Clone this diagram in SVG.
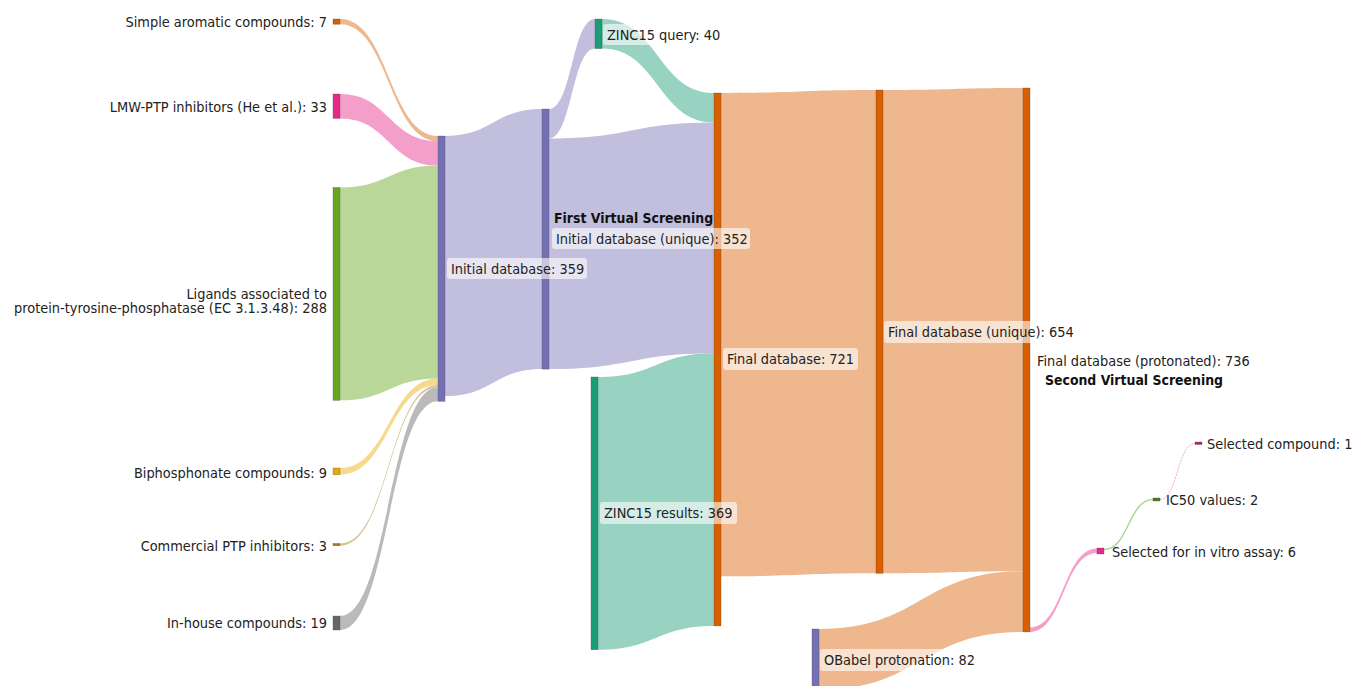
<svg xmlns="http://www.w3.org/2000/svg" width="1353" height="686" viewBox="0 0 1353 686">
<style>
text{font-family:"DejaVu Sans Condensed","DejaVu Sans",sans-serif;font-size:14.4px;fill:#222}
.b{font-weight:bold;fill:#111;font-size:13.9px}
.bg{fill:#fff;fill-opacity:0.6}
.n{stroke:#444;stroke-width:0.5;stroke-opacity:0.6}
.peach{fill:#EEB78D}.lav{fill:#C1BFDD}.teal{fill:#98D3C2}.pink{fill:#F49FCA}.green{fill:#BAD79A}.yel{fill:#F6D98D}.brown{fill:#D7C199}.grey{fill:#BABABA}
</style>
<rect width="1353" height="686" fill="#fff"/>
<g id="links">
<path class="peach" d="M340,19 C389,19 389,136 438,136 L438,141.2 C389,141.2 389,24.2 340,24.2 Z"/>
<path class="pink" d="M340,94 C389,94 389,141.2 438,141.2 L438,165.6 C389,165.6 389,118.4 340,118.4 Z"/>
<path class="green" d="M340,187.5 C389,187.5 389,165.6 438,165.6 L438,378.4 C389,378.4 389,400.3 340,400.3 Z"/>
<path class="yel" d="M340,468 C389,468 389,378.4 438,378.4 L438,385.1 C389,385.1 389,474.7 340,474.7 Z"/>
<path class="brown" d="M340,543.5 C389,543.5 389,385.1 438,385.1 L438,387.3 C389,387.3 389,545.7 340,545.7 Z"/>
<path class="grey" d="M340,616 C389,616 389,387.3 438,387.3 L438,401.3 C389,401.3 389,630 340,630 Z"/>
<path class="lav" d="M445,136 C493.5,136 493.5,109 542,109 L542,369.1 C493.5,369.1 493.5,396.1 445,396.1 Z"/>
<path class="lav" d="M549,109 C572,109 572,19 595,19 L595,48.6 C572,48.6 572,138.6 549,138.6 Z"/>
<path class="lav" d="M549,138.6 C631.5,138.6 631.5,122.6 714,122.6 L714,353.2 C631.5,353.2 631.5,369.1 549,369.1 Z"/>
<path class="teal" d="M602,19 C658,19 658,93 714,93 L714,122.6 C658,122.6 658,48.6 602,48.6 Z"/>
<path class="teal" d="M598,377 C656,377 656,353.2 714,353.2 L714,625.9 C656,625.9 656,649.7 598,649.7 Z"/>
<path class="peach" d="M721,93 C798.5,93 798.5,90 876,90 L876,573.3 C798.5,573.3 798.5,576.3 721,576.3 Z"/>
<path class="peach" d="M883,90 C953,90 953,88 1023,88 L1023,571.3 C953,571.3 953,573.3 883,573.3 Z"/>
<path class="peach" d="M819,629 C921,629 921,571.3 1023,571.3 L1023,631.9 C921,631.9 921,689.6 819,689.6 Z"/>
<path class="pink" d="M1030,627.5 C1063.5,627.5 1063.5,548.5 1097,548.5 L1097,552.9 C1063.5,552.9 1063.5,631.9 1030,631.9 Z"/>
<path d="M1104,549.6 C1128.5,549.6 1128.5,499.4 1153,499.4" fill="none" stroke="#A9D58A" stroke-width="1.4"/>
<path d="M1160,499.4 C1177.5,499.4 1177.5,443.5 1195,443.5" fill="none" stroke="#F49FCA" stroke-width="0.9" stroke-dasharray="2 1"/>
</g>
<g id="final-db-protonated"><rect class="n" x="1023" y="88" width="7" height="543.9" fill="#d95f02"/><text x="1037" y="365.5">Final database (protonated): 736</text><text class="b" x="1045" y="384.5">Second Virtual Screening</text></g>
<g id="final-db-unique"><rect class="n" x="876" y="90" width="7" height="483.3" fill="#d95f02"/><rect class="bg" x="884" y="321" width="193" height="22" rx="3"/><text x="888" y="337">Final database (unique): 654</text></g>
<g id="final-db"><rect class="n" x="714" y="93" width="7" height="532.9" fill="#d95f02"/><rect class="bg" x="723" y="348" width="135" height="22" rx="3"/><text x="727" y="364">Final database: 721</text></g>
<g id="zinc-results"><rect class="n" x="591" y="377" width="7" height="272.7" fill="#1b9e77"/><rect class="bg" x="600" y="502" width="137" height="22" rx="3"/><text x="604" y="518">ZINC15 results: 369</text></g>
<g id="zinc-query"><rect class="n" x="595" y="19" width="7" height="29.6" fill="#1b9e77"/><rect class="bg" x="603" y="24" width="124" height="21" rx="3"/><text x="607" y="39.5">ZINC15 query: 40</text></g>
<g id="initial-db-unique"><rect class="n" x="542" y="109" width="7" height="260.1" fill="#7570b3"/><text class="b" x="554" y="223">First Virtual Screening</text><rect class="bg" x="552" y="228" width="198" height="21" rx="3"/><text x="556" y="244">Initial database (unique): 352</text></g>
<g id="initial-db"><rect class="n" x="438" y="136" width="7" height="265.3" fill="#7570b3"/><rect class="bg" x="447" y="258" width="140" height="21" rx="3"/><text x="451" y="273.5">Initial database: 359</text></g>
<g id="obabel"><rect class="n" x="812" y="629" width="7" height="60" fill="#7570b3"/><rect class="bg" x="820" y="649" width="158" height="22" rx="3"/><text x="824" y="665">OBabel protonation: 82</text></g>
<g id="simple-aromatic"><rect class="n" x="333" y="19" width="7" height="5.2" fill="#d95f02"/><text x="327" y="27" text-anchor="end">Simple aromatic compounds: 7</text></g>
<g id="lmw-ptp"><rect class="n" x="333" y="94" width="7" height="24.4" fill="#e7298a"/><text x="327" y="112" text-anchor="end">LMW-PTP inhibitors (He et al.): 33</text></g>
<g id="ligands"><rect class="n" x="333" y="187.5" width="7" height="212.8" fill="#66a61e"/><text text-anchor="end"><tspan x="327" y="299">Ligands associated to</tspan><tspan x="327" y="313">protein-tyrosine-phosphatase (EC 3.1.3.48): 288</tspan></text></g>
<g id="biphosphonate"><rect class="n" x="333" y="468" width="7" height="6.7" fill="#e6ab02"/><text x="327" y="478" text-anchor="end">Biphosphonate compounds: 9</text></g>
<g id="commercial"><rect class="n" x="333" y="543.5" width="7" height="2.2" fill="#a6761d"/><text x="327" y="551" text-anchor="end">Commercial PTP inhibitors: 3</text></g>
<g id="in-house"><rect class="n" x="333" y="616" width="7" height="14" fill="#666666"/><text x="327" y="628" text-anchor="end">In-house compounds: 19</text></g>
<g id="in-vitro"><rect class="n" x="1097" y="548" width="7" height="6" fill="#e7298a"/><text x="1112" y="556.5">Selected for in vitro assay: 6</text></g>
<g id="ic50"><rect class="n" x="1153" y="498" width="7" height="3" fill="#4a7c1a"/><text x="1166" y="505">IC50 values: 2</text></g>
<g id="selected-compound"><rect class="n" x="1195" y="442" width="7" height="2.5" fill="#b0256e"/><text x="1207" y="448.5">Selected compound: 1</text></g>
</svg>
